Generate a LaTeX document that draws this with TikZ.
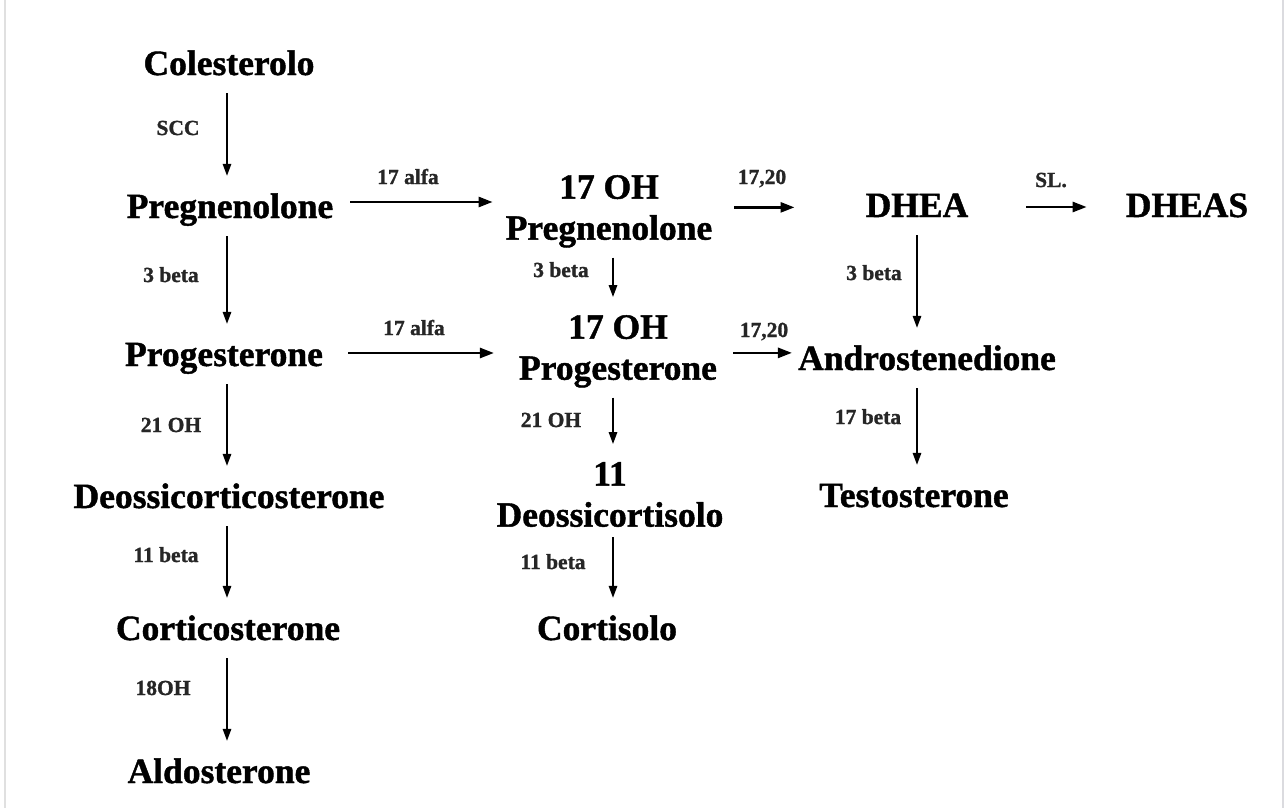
\documentclass[tikz,border=0pt]{standalone}
\usepackage{fontspec}
\setmainfont{Liberation Serif}[BoldFeatures={FakeBold=1.2}]
\usetikzlibrary{arrows.meta}

\newcommand{\molfont}{\fontsize{35.5}{41}\selectfont\bfseries}
\newcommand{\enzfont}{\fontsize{21.5}{24}\selectfont\bfseries}

\tikzset{
  mol/.style={font=\molfont, inner sep=0pt, text height=24pt, text depth=8pt, anchor=base},
  moltwo/.style={font=\molfont, inner sep=0pt, align=center, anchor=north},
  enz/.style={font=\enzfont, inner sep=0pt, text height=14pt, text depth=0pt, text=black!85},
  varr/.style={-{Triangle[length=12pt,width=8.5pt]}, line width=1.6pt, shorten <=10pt, shorten >=18pt},
  harr/.style={-{Triangle[length=14pt,width=10pt]}, line width=2.6pt},
}

\begin{document}
\begin{tikzpicture}[x=1pt, y=-1pt]
    \useasboundingbox (0,0) rectangle (1285,808);

    % faint edges of the screenshot
    \draw[black!12, line width=1.5pt] (5,0) -- (5,808);
    \draw[blue!10!black!14, line width=1.5pt] (1283,0) -- (1283,808);

    % axes of the vertical arrows
    \coordinate (cL) at (227,0);
    \coordinate (cM) at (613,0);
    \coordinate (cR) at (917,0);

    % Mineralocorticoid column
    \node[mol] (col)   at (229,75)  {Colesterolo};
    \node[mol] (preg)  at (230,218) {Pregnenolone};
    \node[mol] (prog)  at (224,366) {Progesterone};
    \node[mol] (doc)   at (229,508) {Deossicorticosterone};
    \node[mol] (cort)  at (228,640) {Corticosterone};
    \node[mol] (aldo)  at (219,783) {Aldosterone};

    % Glucocorticoid column
    \node[moltwo] (ohpreg) at (609,175) {17 OH\\Pregnenolone};
    \node[moltwo] (ohprog) at (618,315) {17 OH\\Progesterone};
    \node[moltwo] (deoxc)  at (610,462) {11\\Deossicortisolo};
    \node[mol] (cortiso)   at (607,640) {Cortisolo};

    % Androgen column
    \node[mol] (dhea)  at (917,217)  {DHEA};
    \node[mol] (dheas) at (1187,217) {DHEAS};
    \node[mol] (andro) at (927,370)  {Androstenedione};
    \node[mol] (testo) at (914,507)  {Testosterone};

    % Vertical steps
    \draw[varr] (col.south -| cL)  -- (preg.north -| cL);
    \draw[varr] (preg.south -| cL) -- (prog.north -| cL);
    \draw[varr] (prog.south -| cL) -- (doc.north -| cL);
    \draw[varr] (doc.south -| cL)  -- (cort.north -| cL);
    \draw[varr] (cort.south -| cL) -- (aldo.north -| cL);
    \draw[varr] (ohpreg.south -| cM) -- (ohprog.north -| cM);
    \draw[varr] (ohprog.south -| cM) -- (deoxc.north -| cM);
    \draw[varr] (deoxc.south -| cM)  -- (cortiso.north -| cM);
    \draw[varr] (dhea.south -| cR)  -- (andro.north -| cR);
    \draw[varr] (andro.south -| cR) -- (testo.north -| cR);

    % Horizontal steps
    \draw[harr, shorten <=17pt, shorten >=13pt] ([yshift=8pt]preg.east) -- ([yshift=8pt]preg.east -| ohpreg.west);
    \draw[harr, shorten <=25pt, shorten >=25pt] ([yshift=5pt]prog.east) -- ([yshift=5pt]prog.east -| ohprog.west);
    \draw[harr, shorten <=22pt, shorten >=71pt] ([yshift=4pt]ohpreg.east) -- ([yshift=4pt]ohpreg.east -| dhea.west);
    \draw[harr, shorten <=16pt, shorten >=6pt] ([yshift=-1.5pt]ohprog.east) -- ([yshift=-1.5pt]ohprog.east -| andro.west);
    \draw[harr, shorten <=58pt, shorten >=39pt] ([yshift=2pt]dhea.east) -- ([yshift=2pt]dhea.east -| dheas.west);

    % Enzymes
    \node[enz] (eSCC)   at (178,128) {SCC};
    \node[enz] (eBetaL) at (171,275) {3 beta};
    \node[enz] (eOHL)   at (171,425) {21 OH};
    \node[enz] (eElvL)  at (166,555) {11 beta};
    \node[enz] (eEigh)  at (163,688) {18OH};
    \node[enz] (eAlfA)  at (408,177) {17 alfa};
    \node[enz] (eAlfB)  at (414,328) {17 alfa};
    \node[enz] (eBetaM) at (561,270) {3 beta};
    \node[enz] (eOHM)   at (551,420) {21 OH};
    \node[enz] (eElvM)  at (553,562) {11 beta};
    \node[enz] (eLyaA)  at (762,177) {17,20};
    \node[enz] (eLyaB)  at (764,330) {17,20};
    \node[enz] (eSL)    at (1051,180) {SL.};
    \node[enz] (eBetaR) at (874,273) {3 beta};
    \node[enz] (eSevR)  at (868,417) {17 beta};
\end{tikzpicture}
\end{document}
